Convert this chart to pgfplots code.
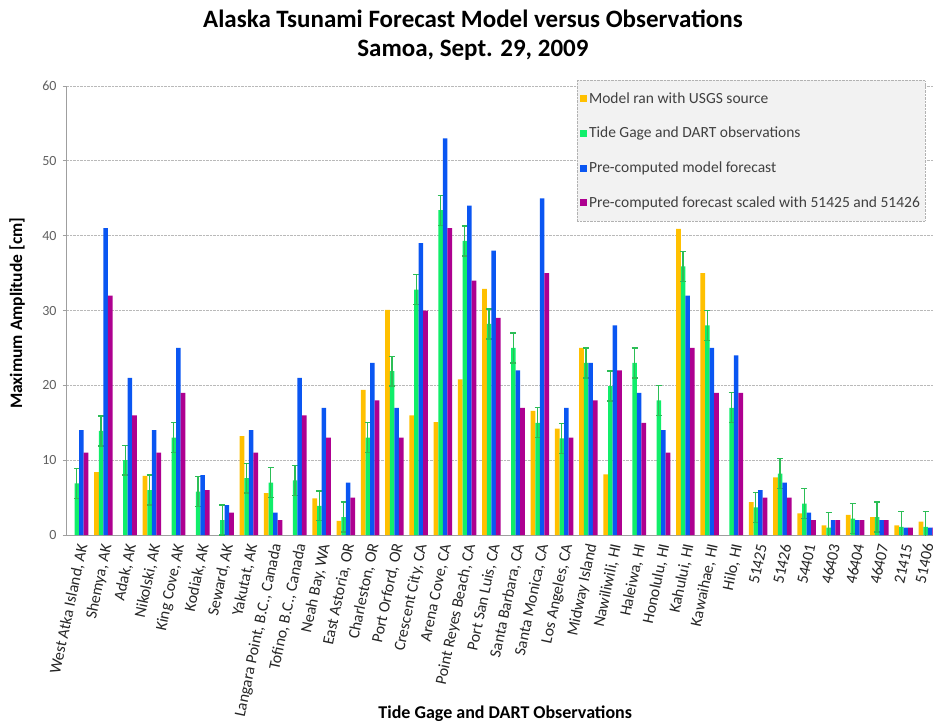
\documentclass[border=0pt]{standalone}
\usepackage{pgfplots}
\usepackage{pgfplotstable}
\pgfplotsset{compat=1.18}
\usepackage{fontspec}
\setmainfont{Carlito}
\definecolor{cOrange}{HTML}{FFC000}
\definecolor{cGreen}{HTML}{10EE6A}
\definecolor{cBlue}{HTML}{0A56F2}
\definecolor{cMag}{HTML}{AE0090}
\definecolor{cErr}{HTML}{2CBE56}
\definecolor{cTxt}{HTML}{404040}

\pgfplotstableread{
x usgs tide pre scaled
0  nan  6.9  14 11
1  8.4  13.9 41 32
2  nan  10   21 16
3  7.9  6    14 11
4  nan  13   25 19
5  nan  5.8  8  6
6  nan  2    4  3
7  13.2 7.6  14 11
8  5.6  7    3  2
9  nan  7.3  21 16
10 4.9  3.9  17 13
11 1.9  2.4  7  5
12 19.4 13   23 18
13 30.1 21.9 17 13
14 16   32.8 39 30
15 15.1 43.4 53 41
16 20.8 39.3 44 34
17 32.9 28.2 38 29
18 nan  25   22 17
19 16.6 15   45 35
20 14.2 12.9 17 13
21 25   23   23 18
22 8.1  19.9 28 22
23 nan  23   19 15
24 nan  18   14 11
25 40.9 35.9 32 25
26 35   28   25 19
27 nan  17   24 19
28 4.4  3.7  6  5
29 7.7  8.2  7  5
30 2.9  4.2  3  2
31 1.3  1.0  2  2
32 2.7  2.2  2  2
33 2.4  2.4  2  2
34 1.3  1.1  1  1
35 1.8  1.1  1  1
}\datatable

\begin{document}
\begin{tikzpicture}
\useasboundingbox (-67pt,-188pt) rectangle (866pt,535pt);
\begin{axis}[
  at={(0pt,0pt)}, anchor=south west,
  scale only axis, width=873pt, height=449pt,
  xmin=-0.5, xmax=35.5, ymin=0, ymax=60,
  ybar, bar width=0.19,
  axis lines*=left,
  axis line style={gray!75, line width=1pt},
  ytick={0,10,...,60},
  ymajorgrids,
  grid style={gray!55, densely dotted, line width=1pt},
  tick align=outside,
  major tick length=4pt,
  ytick style={gray!75, line width=0.8pt},
  xtick style={draw=none},
  /pgf/number format/assume math mode=true,
  yticklabel style={font=\fontsize{14}{16}\selectfont, text=gray!75!black, xshift=-3pt},
  xtick={0,...,35},
  xticklabels={{West Atka Island, AK},{Shemya, AK},{Adak, AK},{Nikolski, AK},{King Cove, AK},{Kodiak, AK},{Seward, AK},{Yakutat, AK},{Langara Point, B.C., Canada},{Tofino, B.C., Canada},{Neah Bay, WA},{East Astoria, OR},{Charleston, OR},{Port Orford, OR},{Crescent City, CA},{Arena Cove, CA},{Point Reyes Beach, CA},{Port San Luis, CA},{Santa Barbara, CA},{Santa Monica, CA},{Los Angeles, CA},{Midway Island},{Nawiliwili, HI},{Haleiwa, HI},{Honolulu, HI},{Kahului, HI},{Kawaihae, HI},{Hilo, HI},51425,51426,54401,46403,46404,46407,21415,{\raisebox{-2pt}[0pt][0pt]{51406}}},
  xticklabel style={rotate=78, anchor=east, font=\fontsize{16}{18}\selectfont, text=black!85, inner sep=1pt, yshift=-5pt, xshift=-3pt},
  title={Alaska Tsunami Forecast Model versus Observations\\Samoa, Sept. 29, 2009},
  title style={at={(axis description cs:0.465,1.100)}, anchor=center, align=center, font=\bfseries\fontsize{25}{29}\selectfont},
  xlabel={Tide Gage and DART Observations},
  xlabel style={at={(axis description cs:0.502,-0.398)}, anchor=center, font=\bfseries\fontsize{18}{20}\selectfont},
  ylabel={Maximum Amplitude [cm]},
  ylabel style={at={(axis description cs:-0.057,0.494)}, anchor=center, font=\bfseries\fontsize{17.5}{20}\selectfont},
  legend cell align=left,
  legend style={at={(axis description cs:0.584,1.013)}, anchor=north west,
    fill=gray!10, draw=gray!60, densely dotted, font=\fontsize{15.5}{17}\selectfont, text=cTxt,
    row sep=18.5pt, inner xsep=3pt, inner ysep=10pt},
  legend image code/.code={\fill[#1, solid, draw=none] (0pt,-3.5pt) rectangle (7pt,3.5pt);},
]
\addplot[fill=cOrange, draw=none, bar shift=-0.285] table[x=x, y=usgs] {\datatable};
\addlegendentry{Model ran with USGS source}
\addplot[fill=cGreen, draw=none, bar shift=-0.095,
  error bars/.cd, y dir=both, y fixed=2,
  error bar style={cErr, line width=1.3pt, solid},
  error mark options={cErr, rotate=90, mark size=3pt, line width=1.3pt, solid}]
  table[x=x, y=tide] {\datatable};
\addlegendentry{Tide Gage and DART observations}
\addplot[fill=cBlue, draw=none, bar shift=0.095] table[x=x, y=pre] {\datatable};
\addlegendentry{Pre-computed model forecast}
\addplot[fill=cMag, draw=none, bar shift=0.285] table[x=x, y=scaled] {\datatable};
\addlegendentry{Pre-computed forecast scaled with 51425 and 51426}
\end{axis}
\end{tikzpicture}
\end{document}
